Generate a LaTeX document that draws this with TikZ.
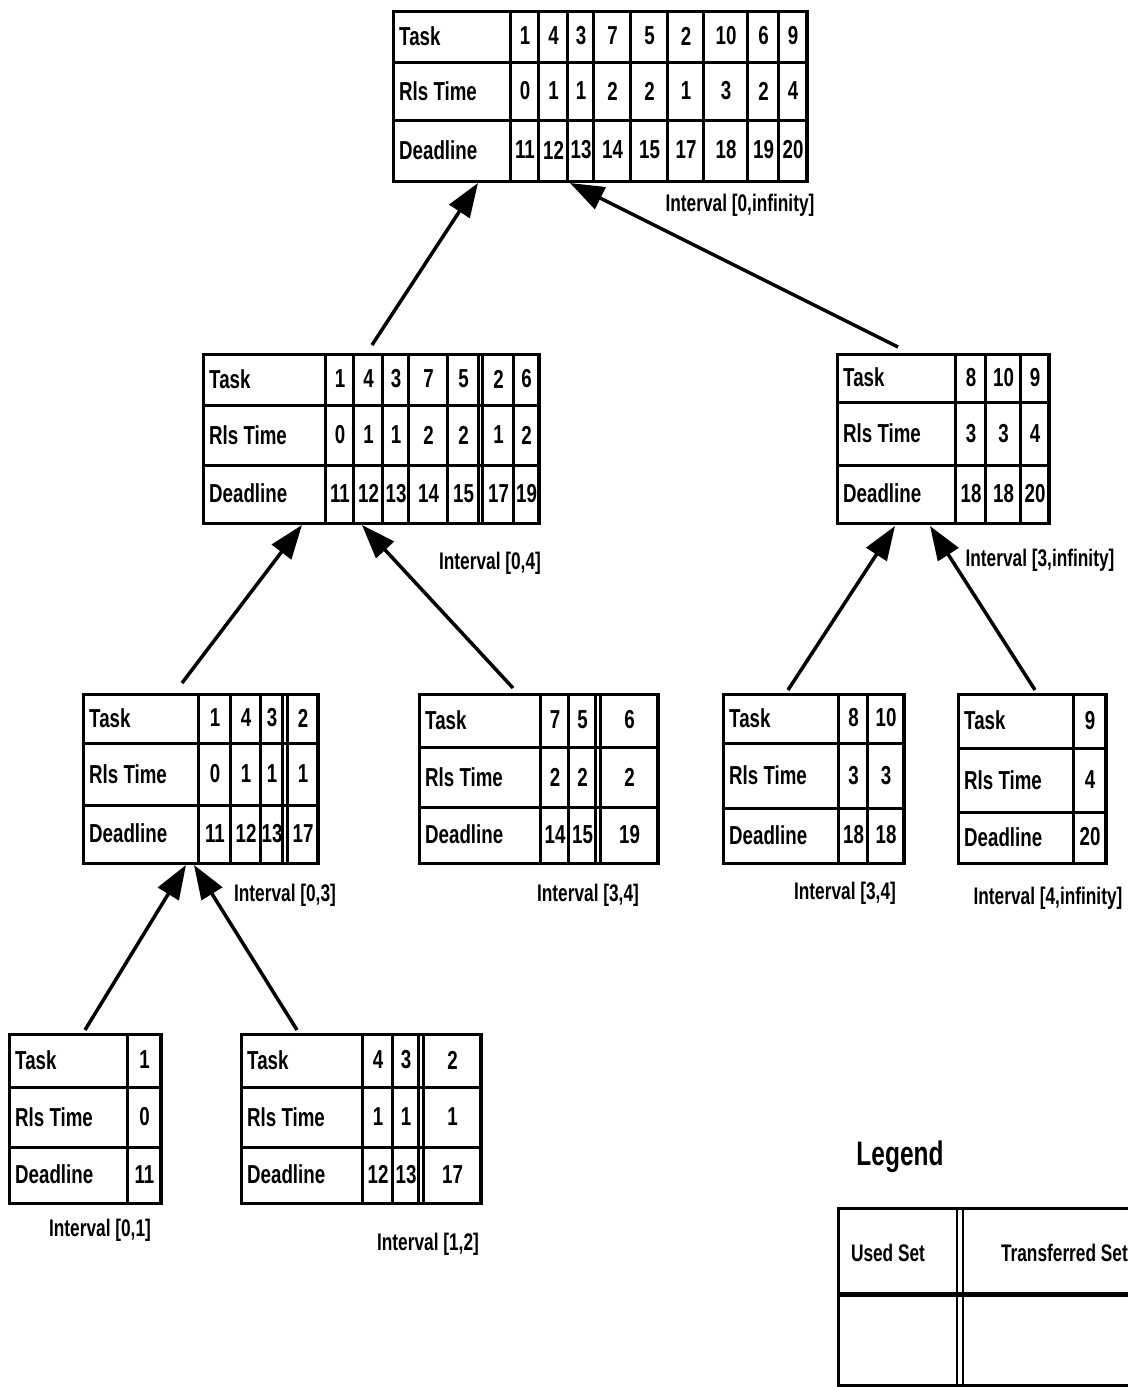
\documentclass[tikz,border=0pt]{standalone}
\usepackage{fontspec}
\usetikzlibrary{arrows.meta}
\newfontfamily\condfont{Liberation Sans}[FakeStretch=0.72]
\tikzset{
  tblbox/.style={draw, line width=3pt, inner sep=0pt, fill=none},
  tblline/.style={line width=3pt},
  rowlab/.style={anchor=west, inner sep=0pt, font=\condfont\bfseries\fontsize{26}{28}\selectfont},
  cell/.style={inner sep=0pt, font=\condfont\bfseries\fontsize{26}{28}\selectfont},
  ilab/.style={inner sep=0pt, font=\condfont\bfseries\fontsize{24}{28}\selectfont},
  arr/.style={line width=3.5pt, -{Triangle[length=34pt,width=24pt]}},
}
% #1 name, #2 left, #3 top, #4 right, #5 bottom, #6 row1, #7 row2, #8 label column
\newcommand{\tasktable}[8]{%
  \node[tblbox, anchor=north west, minimum width={#4-#2}, minimum height={#5-#3}] (#1) at (#2,#3) {};
  \draw[tblline] (#2,#6) -- (#4,#6) (#2,#7) -- (#4,#7) (#8,#3) -- (#8,#5);
  \node[rowlab] (#1-lt) at ({#2+7},{(#3+#6)/2}) {Task};
  \node[rowlab] (#1-lr) at ({#2+7},{(#6+#7)/2}) {Rls Time};
  \node[rowlab] (#1-ld) at ({#2+7},{(#7+#5)/2}) {Deadline};
}
% #1 name, #2 top, #3 bottom, #4 row1, #5 row2, #6 list xl/xr/task/rls/deadline
\newcommand{\taskcols}[6]{%
  \foreach \xl/\xr/\ta/\tb/\tc in {#6} {
    \draw[tblline] (\xr,#2) -- (\xr,#3);
    \node[cell] (#1-a\xr) at ({(\xl+\xr)/2+1},{(#2+#4)/2}) {\ta};
    \node[cell] (#1-b\xr) at ({(\xl+\xr)/2+1},{(#4+#5)/2}) {\tb};
    \node[cell] (#1-c\xr) at ({(\xl+\xr)/2+1},{(#5+#3)/2}) {\tc};
  }%
}
\begin{document}
\begin{tikzpicture}[x=1pt,y=-1pt]
\useasboundingbox (0,0) rectangle (1128,1387);
\fill[white] (0,0) rectangle (1128,1387);

% top table
\tasktable{T0}{392}{10}{806}{180}{62}{120}{510}
\taskcols{T0}{10}{180}{62}{120}{510/538/1/0/11,538/567/4/1/12,567/593/3/1/13,593/630/7/2/14,630/667/5/2/15,667/703/2/1/17,703/747/10/3/18,747/778/6/2/19,778/806/9/4/20}
\node[ilab] (I0) at (740,205) {Interval [0,infinity]};

% middle left
\tasktable{T1}{202}{353}{538}{522}{405}{465}{325}
\taskcols{T1}{353}{522}{405}{465}{325/353/1/0/11,353/382/4/1/12,382/408/3/1/13,408/447/7/2/14,447/478/5/2/15,482/513/2/1/17,513/538/6/2/19}
\draw[tblline] (482,353) -- (482,522);
\node[ilab] (I1) at (490,563) {Interval [0,4]};

% middle right
\tasktable{T2}{836}{353}{1048}{522}{402}{465}{955}
\taskcols{T2}{353}{522}{402}{465}{955/985/8/3/18,985/1020/10/3/18,1020/1048/9/4/20}
\node[ilab] (I2) at (1040,560) {Interval [3,infinity]};

% level 3
\tasktable{T3}{82}{693}{317}{862}{743}{805}{198}
\taskcols{T3}{693}{862}{743}{805}{198/230/1/0/11,230/260/4/1/12,260/282/3/1/13,287/317/2/1/17}
\draw[tblline] (287,693) -- (287,862);
\node[ilab] (I3) at (285,895) {Interval [0,3]};

\tasktable{T4}{418}{693}{657}{862}{747}{807}{540}
\taskcols{T4}{693}{862}{747}{807}{540/568/7/2/14,568/595/5/2/15,600/657/6/2/19}
\draw[tblline] (600,693) -- (600,862);
\node[ilab] (I4) at (588,895) {Interval [3,4]};

\tasktable{T5}{722}{693}{903}{862}{743}{808}{838}
\taskcols{T5}{693}{862}{743}{808}{838/867/8/3/18,867/903/10/3/18}
\node[ilab] (I5) at (845,893) {Interval [3,4]};

\tasktable{T6}{957}{693}{1105}{862}{748}{812}{1073}
\taskcols{T6}{693}{862}{748}{812}{1073/1105/9/4/20}
\node[ilab] (I6) at (1048,898) {Interval [4,infinity]};

% bottom
\tasktable{T7}{8}{1033}{160}{1202}{1087}{1147}{127}
\taskcols{T7}{1033}{1202}{1087}{1147}{127/160/1/0/11}
\node[ilab] (I7) at (100,1230) {Interval [0,1]};

\tasktable{T8}{240}{1033}{480}{1202}{1087}{1147}{362}
\taskcols{T8}{1033}{1202}{1087}{1147}{362/392/4/1/12,392/418/3/1/13,423/480/2/1/17}
\draw[tblline] (423,1033) -- (423,1202);
\node[ilab] (I8) at (428,1244) {Interval [1,2]};

% arrow end points
\coordinate (s1) at (372,345);  \coordinate (e1) at (478,183);
\coordinate (s2) at (898,347);  \coordinate (e2) at (570,183);
\coordinate (s3) at (182,683);  \coordinate (e3) at (302,525);
\coordinate (s4) at (513,688);  \coordinate (e4) at (362,525);
\coordinate (s5) at (788,690);  \coordinate (e5) at (895,526);
\coordinate (s6) at (1035,690); \coordinate (e6) at (930,526);
\coordinate (s7) at (85,1030);  \coordinate (e7) at (186,865);
\coordinate (s8) at (297,1030); \coordinate (e8) at (194,865);
\foreach \k in {1,...,8} {\draw[arr] (s\k) -- (e\k);}

% legend
\node[inner sep=0pt, font=\condfont\bfseries\fontsize{34}{38}\selectfont] (LG) at (900,1157) {Legend};
\draw[line width=3pt] (1128,1208) -- (838,1208) -- (838,1385) -- (1128,1385);
\draw[line width=5pt] (838,1294) -- (1128,1294);
\draw[line width=2.5pt] (957,1208) -- (957,1385) (963,1208) -- (963,1385);
\node[ilab] (LU) at (888,1253) {Used Set};
\node[ilab, anchor=east] (LT) at (1128,1253) {Transferred Set};
\end{tikzpicture}
\end{document}
